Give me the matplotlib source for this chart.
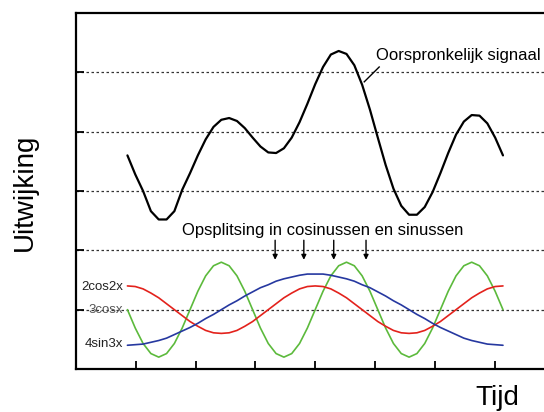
import numpy as np
import matplotlib
matplotlib.use("Agg")
import matplotlib.pyplot as plt

plt.rcParams['font.family'] = ['Liberation Sans', 'DejaVu Sans']

# sample positions (one full period of the slowest component)
x = np.linspace(0.86, 7.14, 49)

signaal = [3.60, 3.28, 3.00, 2.66, 2.52, 2.52, 2.66, 3.02, 3.30, 3.60,
           3.87, 4.08, 4.20, 4.23, 4.18, 4.06, 3.90, 3.75, 3.65, 3.64,
           3.72, 3.90, 4.16, 4.47, 4.80, 5.09, 5.30, 5.36, 5.31, 5.12,
           4.79, 4.37, 3.90, 3.44, 3.04, 2.75, 2.60, 2.60, 2.73, 2.98,
           3.30, 3.64, 3.95, 4.17, 4.28, 4.27, 4.14, 3.90, 3.60]

groen = [1.00, 0.69, 0.43, 0.26, 0.20, 0.26, 0.43, 0.69, 1.00, 1.31, 1.57, 1.74, 1.80, 1.74, 1.57, 1.31,
         1.00, 0.69, 0.43, 0.26, 0.20, 0.26, 0.43, 0.69, 1.00, 1.31, 1.57, 1.74, 1.80, 1.74, 1.57, 1.31,
         1.00, 0.69, 0.43, 0.26, 0.20, 0.26, 0.43, 0.69, 1.00, 1.31, 1.57, 1.74, 1.80, 1.74, 1.57, 1.31, 1.00]

rood = [1.40, 1.39, 1.35, 1.28, 1.20, 1.10, 1.00, 0.90, 0.80, 0.72, 0.65, 0.61, 0.60, 0.61, 0.65, 0.72,
        0.80, 0.90, 1.00, 1.10, 1.20, 1.28, 1.35, 1.39,
        1.40, 1.39, 1.35, 1.28, 1.20, 1.10, 1.00, 0.90, 0.80, 0.72, 0.65, 0.61, 0.60, 0.61, 0.65, 0.72,
        0.80, 0.90, 1.00, 1.10, 1.20, 1.28, 1.35, 1.39, 1.40]

blauw = [0.40, 0.41, 0.42, 0.45, 0.48, 0.52, 0.58, 0.64, 0.70, 0.77, 0.85, 0.92, 1.00,
         1.08, 1.15, 1.23, 1.30, 1.37, 1.42, 1.48, 1.52, 1.55, 1.58, 1.60, 1.60,
         1.60, 1.58, 1.55, 1.52, 1.48, 1.42, 1.37, 1.30, 1.23, 1.15, 1.08, 1.00,
         0.92, 0.85, 0.77, 0.70, 0.64, 0.58, 0.52, 0.48, 0.45, 0.42, 0.41, 0.40]

labels = ['2cos2x', '3cosx', '4sin3x']
label_y = [1.38, 1.0, 0.42]
label_col = ['#222222', '#555555', '#222222']
pijlen_x = [3.33, 3.81, 4.31, 4.85]
grid_y = [1, 2, 3, 4, 5]
tick_x = [1, 2, 3, 4, 5, 6, 7]

fig = plt.figure(figsize=(5.44, 4.12), dpi=100)
ax = fig.add_axes([76 / 544, 43 / 412, 468 / 544, 356 / 412])
ax.set_xlim(0, 468 / 59.8)
ax.set_ylim(0, 6.0)

for gy in grid_y:
    ax.axhline(gy, color='#333333', lw=0.9, ls=(0, (2, 2)), zorder=1)

lijn = dict(solid_joinstyle='round', solid_capstyle='round', zorder=3)
ax.plot(x, signaal, color='black', lw=1.6, **lijn)
ax.plot(x, groen, color='#5cba3c', lw=1.2, **lijn)
ax.plot(x, rood, color='#e3221c', lw=1.2, **lijn)
ax.plot(x, blauw, color='#2638a0', lw=1.2, **lijn)

for lab, ly, lc in zip(labels, label_y, label_col):
    ax.text(0.79, ly, lab, ha='right', va='center', fontsize=9.5, color=lc)

ax.text(5.02, 5.28, 'Oorspronkelijk signaal', ha='left', va='center', fontsize=12)
ax.plot([5.07, 4.82], [5.09, 4.84], color='black', lw=1.0)

ax.text(4.13, 2.34, 'Opsplitsing in cosinussen en sinussen', ha='center', va='center', fontsize=12)
for px in pijlen_x:
    ax.annotate('', xy=(px, 1.84), xytext=(px, 2.17),
                arrowprops=dict(arrowstyle='-|>', color='black', lw=1.0,
                                mutation_scale=7, shrinkA=0, shrinkB=0))

ax.set_xticks(tick_x)
ax.set_yticks(grid_y)
ax.set_xticklabels([])
ax.set_yticklabels([])
ax.tick_params(direction='in', length=6, width=1.3)
ax.spines['right'].set_visible(False)
for s in ['left', 'top', 'bottom']:
    ax.spines[s].set_linewidth(1.6)

fig.text(25 / 544, 0.534, 'Uitwijking', rotation=90, ha='center', va='center', fontsize=20)
fig.text(497 / 544, 7 / 412, 'Tijd', ha='center', va='baseline', fontsize=20)

fig.savefig('out.png', dpi=100)
